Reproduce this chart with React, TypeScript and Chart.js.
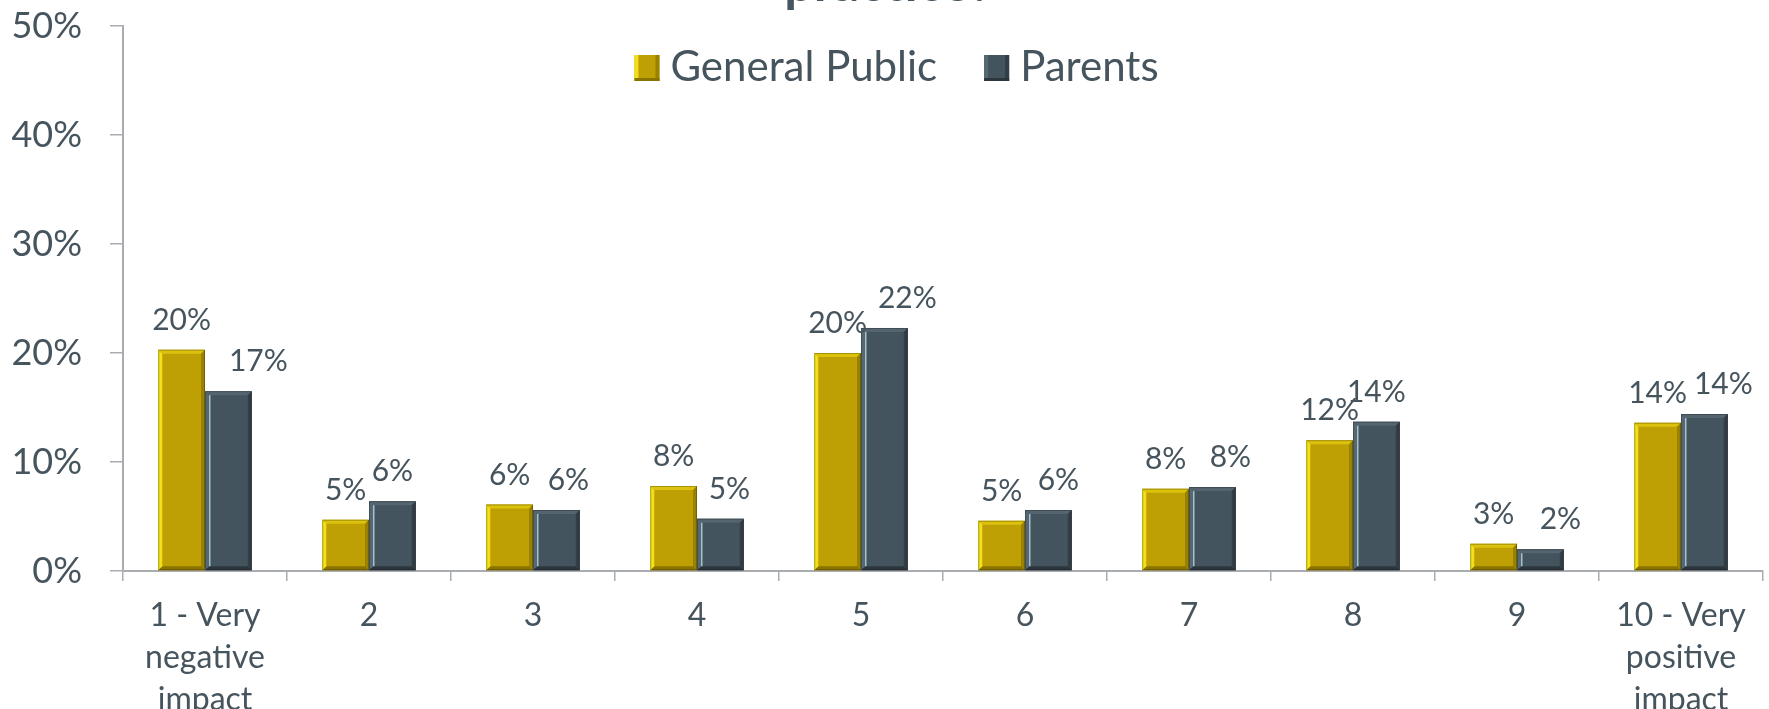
import React, { useEffect, useRef } from "react";
import { Chart, registerables } from "chart.js";

Chart.register(...registerables);

const categories: (string | string[])[] = [
  ["1 - Very", "negative", "impact"],
  "2",
  "3",
  "4",
  "5",
  "6",
  "7",
  "8",
  "9",
  ["10 - Very", "positive", "impact"],
];
const seriesNames = ["General Public", "Parents"];
const generalPublic = [20.3, 4.7, 6.1, 7.8, 20.0, 4.6, 7.55, 12.0, 2.5, 13.6];
const parents = [16.5, 6.4, 5.6, 4.8, 22.3, 5.6, 7.7, 13.7, 2.0, 14.4];
const yTickValues = [0, 10, 20, 30, 40, 50];
const titleFragment = "practice?";

// horizontal nudges applied to the Parents value labels (as in the original)
const parentLabelShift = [30, 0, 12, 9, 23, 10, 18, 0, 20, 19];

const FONT = "Lato, 'Noto Sans', sans-serif";
const TEXT = "#46545e";
const AXIS = "#a9adb1";

const gold = { main: "#bfa004", left: "#f3df1a", top: "#dcc20c", right: "#9a8200", bottom: "#8a7300" };
const slate = { main: "#44545f", left: "#566873", top: "#55656f", right: "#323d45", bottom: "#2c363d", hi: "#a8c0cc" };
const palettes = [gold, slate];

const bevelPlugin = {
  id: "bevel",
  afterDatasetsDraw(chart: any) {
    const ctx = chart.ctx;
    chart.data.datasets.forEach((ds: any, di: number) => {
      const meta = chart.getDatasetMeta(di);
      const p: any = palettes[di];
      meta.data.forEach((el: any) => {
        const { x, y, base, width } = el.getProps(["x", "y", "base", "width"], true);
        const L = x - width / 2, R = x + width / 2, T = Math.min(y, base), B = Math.max(y, base);
        const b = Math.min(4, (B - T) / 2);
        const poly = (pts: number[][], c: string) => {
          ctx.beginPath();
          ctx.moveTo(pts[0][0], pts[0][1]);
          for (let i = 1; i < pts.length; i++) ctx.lineTo(pts[i][0], pts[i][1]);
          ctx.closePath();
          ctx.fillStyle = c;
          ctx.fill();
        };
        ctx.save();
        poly([[L, T], [R, T], [R - b, T + b], [L + b, T + b]], p.top);
        poly([[R, T], [R, B], [R - b, B - b], [R - b, T + b]], p.right);
        poly([[L, B], [R, B], [R - b, B - b], [L + b, B - b]], p.bottom);
        poly([[L, T], [L + b, T + b], [L + b, B - b], [L, B]], p.left);
        if (p.hi) {
          ctx.fillStyle = p.hi;
          ctx.fillRect(L + b, T + b, 1.5, Math.max(0, B - T - 2 * b));
        }
        ctx.strokeStyle = "rgba(0,0,0,0.25)";
        ctx.lineWidth = 1;
        ctx.strokeRect(L + 0.5, T + 0.5, width - 1, B - T - 1);
        ctx.restore();
      });
    });
  },
};

const labelPlugin = {
  id: "valueLabels",
  afterDatasetsDraw(chart: any) {
    const ctx = chart.ctx;
    ctx.save();
    ctx.font = `30px ${FONT}`;
    ctx.fillStyle = TEXT;
    ctx.textAlign = "center";
    ctx.textBaseline = "alphabetic";
    chart.data.datasets.forEach((ds: any, di: number) => {
      const meta = chart.getDatasetMeta(di);
      meta.data.forEach((el: any, i: number) => {
        const v = ds.data[i];
        const shift = di === 1 ? parentLabelShift[i] : 0;
        ctx.fillText(`${Math.round(v)}%`, el.x + shift, el.y - 20);
      });
    });
    ctx.restore();
  },
};

const legendTitlePlugin = {
  id: "legendTitle",
  afterDraw(chart: any) {
    const ctx = chart.ctx;
    ctx.save();
    // clipped title fragment at the very top
    ctx.font = `bold 52px ${FONT}`;
    ctx.fillStyle = "#465660";
    ctx.textAlign = "center";
    ctx.textBaseline = "alphabetic";
    ctx.fillText(titleFragment, chart.width / 2 + 4, 1);

    // legend
    ctx.font = `42px ${FONT}`;
    const box = 25, gap = 11, between = 47;
    const widths = chart.data.datasets.map((d: any) => ctx.measureText(d.label).width);
    const total = widths.reduce((a: number, w: number) => a + box + gap + w, 0) + between * (widths.length - 1);
    let x = chart.width / 2 + 12 - total / 2;
    const top = 55;
    chart.data.datasets.forEach((d: any, di: number) => {
      const p: any = palettes[di];
      ctx.fillStyle = p.main;
      ctx.fillRect(x, top, box, box + 1);
      ctx.fillStyle = p.left;
      ctx.fillRect(x, top, 4, box + 1);
      ctx.fillStyle = p.right;
      ctx.fillRect(x + box - 4, top, 4, box + 1);
      ctx.fillStyle = p.bottom;
      ctx.fillRect(x, top + box - 2, box, 3);
      ctx.fillStyle = TEXT;
      ctx.textAlign = "left";
      ctx.fillText(d.label, x + box + gap, top + box + 1);
      x += box + gap + widths[di] + between;
    });
    ctx.restore();
  },
};

export default function App() {
  const ref = useRef<HTMLCanvasElement | null>(null);

  useEffect(() => {
    if (!ref.current) return;
    const chart = new Chart(ref.current, {
      type: "bar",
      data: {
        labels: categories as any,
        datasets: [
          { label: seriesNames[0], data: generalPublic, backgroundColor: gold.main, borderWidth: 0 },
          { label: seriesNames[1], data: parents, backgroundColor: slate.main, borderWidth: 0 },
        ],
      },
      options: {
        responsive: false,
        animation: false,
        devicePixelRatio: 1,
        layout: { padding: { top: 26, right: 6, left: 0, bottom: 0 } },
        datasets: { bar: { barPercentage: 1, categoryPercentage: 0.57 } },
        plugins: {
          legend: { display: false },
          tooltip: { enabled: false },
          title: { display: false },
        },
        scales: {
          x: {
            grid: {
              display: true,
              drawOnChartArea: false,
              drawTicks: true,
              tickLength: 10,
              color: AXIS,
              lineWidth: 1.5,
              offset: true,
            },
            border: { display: true, color: AXIS, width: 2 },
            ticks: {
              color: TEXT,
              font: { family: FONT, size: 32, lineHeight: 1.31 },
              padding: 14,
              maxRotation: 0,
              autoSkip: false,
            },
            afterFit: (s: any) => {
              s.height = 138;
            },
          },
          y: {
            min: 0,
            max: 50,
            afterBuildTicks: (s: any) => {
              s.ticks = yTickValues.map((v) => ({ value: v }));
            },
            grid: {
              display: true,
              drawOnChartArea: false,
              drawTicks: true,
              tickLength: 13,
              color: AXIS,
              lineWidth: 1.5,
            },
            border: { display: true, color: AXIS, width: 2 },
            ticks: {
              color: TEXT,
              font: { family: FONT, size: 36 },
              padding: 28,
              callback: (v: any) => `${v}%`,
            },
            afterFit: (s: any) => {
              s.width = 123;
              s.paddingTop = 0;
              s.paddingBottom = 0;
            },
          },
        },
      },
      plugins: [bevelPlugin, labelPlugin, legendTitlePlugin],
    });
    return () => chart.destroy();
  }, []);

  return (
    <div style={{ position: "absolute", left: 0, top: 0, width: 1769, height: 709, background: "#ffffff" }}>
      <canvas ref={ref} width={1769} height={709} style={{ display: "block" }} />
    </div>
  );
}
